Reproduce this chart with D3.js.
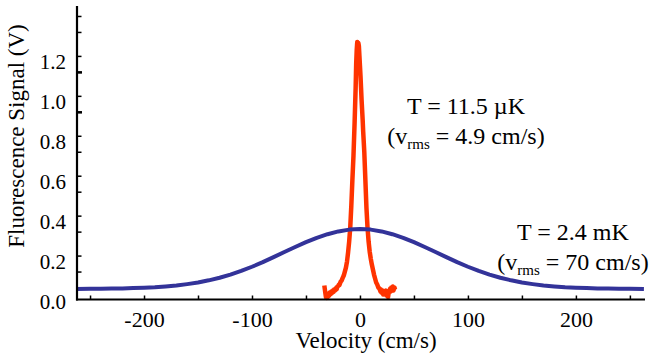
<!DOCTYPE html>
<html>
<head>
<meta charset="utf-8">
<script src="https://cdn.jsdelivr.net/npm/d3@7"></script>
<style>
  html, body { margin: 0; padding: 0; background: #fff; }
  svg { display: block; }
  svg text { font-family: "Liberation Serif", "Times New Roman", serif !important; fill: #000; }
</style>
</head>
<body>
<svg id="chart" width="662" height="355"></svg>
<script>
// ---- data ----
const xLabelTicks = [-200, -100, 0, 100, 200];
const xMinorTicks = [-250, -150, -50, 50, 150, 250];
const yLabels = [0.0, 0.2, 0.4, 0.6, 0.8, 1.0, 1.2];
const yTicksA = [0.22, 0.42, 0.62, 0.82, 1.02, 1.22, 1.42];
const yTicksB = [0.14, 0.34, 0.54, 0.74, 0.94, 1.14, 1.34];
const yTicksBold = [0.94, 1.14];

// warm cloud (T = 2.4 mK)
const blueV = [-263, -250, -240, -230, -220, -210, -200, -190, -180, -170, -160, -150, -140, -130, -120, -110, -100, -90, -80, -70, -60, -50, -40, -30, -20, -10, 0,
               10, 20, 30, 40, 50, 60, 70, 80, 90, 100, 110, 120, 130, 140, 150, 160, 170, 180, 190, 200, 210, 220, 230, 240, 250, 263];
const blueS = [0.053, 0.054, 0.054, 0.055, 0.055, 0.057, 0.059, 0.061, 0.065, 0.070, 0.077, 0.085, 0.096, 0.109, 0.125, 0.143, 0.164, 0.187, 0.212, 0.238, 0.263, 0.287, 0.309, 0.327, 0.341, 0.350, 0.353,
               0.350, 0.341, 0.327, 0.309, 0.287, 0.263, 0.238, 0.212, 0.187, 0.164, 0.143, 0.125, 0.109, 0.096, 0.085, 0.077, 0.070, 0.065, 0.061, 0.059, 0.057, 0.055, 0.055, 0.054, 0.054, 0.053];

// cold cloud (T = 11.5 µK)
const redV = [-33.0, -32.5, -32.0, -31.5, -31.0, -30.5, -30.0, -29.5, -29.0, -28.5, -28.0, -27.0, -26.5, -26.0, -25.0, -24.5, -24.0, -23.0, -22.0, -21.5, -21.0, -20.0, -19.5, -19.0, -18.0, -17.0,
              -16.0, -15.0, -14.0, -13.0, -12.0, -11.0, -10.0, -9.0, -8.0, -7.0, -6.0, -5.0, -4.0, -3.5, -3.0, -2.5, -2.0, -1.5, -1.0, -0.5, 0.0, 0.5, 1.0, 1.5, 2.0, 2.5, 3.0, 4.0, 5.0,
              6.0, 7.0, 8.0, 9.0, 10.0, 11.0, 12.0, 13.0, 14.0, 15.0, 16.0, 17.0, 18.0, 19.0, 19.5, 20.0, 21.0, 21.5, 22.0, 23.0, 24.0, 24.5, 25.0, 26.0, 26.5, 27.0, 28.0, 28.5, 29.0,
              30.0, 30.5, 31.0, 32.0, 32.5];
const redS = [0.070, 0.050, 0.030, 0.012, 0.020, 0.008, 0.025, 0.015, 0.030, 0.020, 0.035, 0.028, 0.040, 0.032, 0.045, 0.038, 0.050, 0.046, 0.058, 0.052, 0.064, 0.068, 0.075, 0.072, 0.088, 0.095,
              0.108, 0.120, 0.140, 0.160, 0.190, 0.235, 0.290, 0.360, 0.470, 0.600, 0.720, 0.880, 1.060, 1.180, 1.250, 1.290, 1.260, 1.285, 1.270, 1.220, 1.170, 1.120, 1.060, 1.000, 0.950, 0.900, 0.840, 0.740, 0.600,
              0.460, 0.360, 0.290, 0.240, 0.205, 0.175, 0.150, 0.125, 0.105, 0.085, 0.075, 0.060, 0.055, 0.040, 0.050, 0.035, 0.045, 0.025, 0.040, 0.030, 0.045, 0.020, 0.035, 0.012, 0.030, 0.040, 0.055, 0.040, 0.060,
              0.050, 0.065, 0.045, 0.060, 0.050];

const xTitle = "Velocity (cm/s)";
const yTitle = "Fluorescence Signal (V)";

// ---- drawing ----
const svg = d3.select("#chart");
const x = d3.scaleLinear().domain([-263, 264]).range([76, 645]);
const y = d3.scaleLinear().domain([0, 1.47]).range([299.5, 6]);

const line = d3.line().x(d => x(d[0])).y(d => y(d[1]));
const redData = redV.map((v, i) => [v, redS[i]]);
const blueData = blueV.map((v, i) => [v, blueS[i]]);

svg.append("path").datum(redData)
  .attr("d", line).attr("fill", "none")
  .attr("stroke", "#ff3300").attr("stroke-width", 4.5).attr("stroke-linejoin", "round");
svg.append("path").datum(blueData)
  .attr("d", line).attr("fill", "none")
  .attr("stroke", "#333399").attr("stroke-width", 4).attr("stroke-linejoin", "round");

// X axis
const gx = svg.append("g").attr("transform", `translate(0,${y(0)})`);
gx.call(d3.axisBottom(x).tickValues(xLabelTicks).tickSize(-4).tickPadding(12).tickFormat(d => String(d)));
gx.attr("font-family", null).attr("font-size", null);
gx.select(".domain").remove();
gx.selectAll(".tick line").attr("stroke", "#000").attr("stroke-width", 1.5);
gx.selectAll(".tick text").style("font-size", "22px");
const gxm = svg.append("g").attr("transform", `translate(0,${y(0)})`);
gxm.call(d3.axisBottom(x).tickValues(xMinorTicks).tickSize(-4).tickFormat(""));
gxm.select(".domain").remove();
gxm.selectAll(".tick line").attr("stroke", "#000").attr("stroke-width", 1.5);
svg.append("line")
  .attr("x1", x.range()[0]).attr("x2", x.range()[1])
  .attr("y1", y(0)).attr("y2", y(0))
  .attr("stroke", "#000").attr("stroke-width", 2);

// Y axis
const y0x = x.range()[0] + 1;
const gyl = svg.append("g").attr("transform", `translate(${y0x},0)`);
gyl.call(d3.axisLeft(y).tickValues(yLabels).tickSize(0).tickPadding(11).tickFormat(d3.format(".1f")));
gyl.attr("font-family", null).attr("font-size", null);
gyl.select(".domain").remove();
gyl.selectAll(".tick text").style("font-size", "21px").attr("dy", "0.42em");
[yTicksA, yTicksB].forEach(tv => {
  const g = svg.append("g").attr("transform", `translate(${y0x},0)`);
  g.call(d3.axisRight(y).tickValues(tv).tickSize(4.5).tickFormat(""));
  g.select(".domain").remove();
  g.selectAll(".tick line").attr("stroke", "#000").attr("stroke-width", 1.5);
});
const gyb = svg.append("g").attr("transform", `translate(${y0x - 1},0)`);
gyb.call(d3.axisRight(y).tickValues(yTicksBold).tickSize(6).tickFormat(""));
gyb.select(".domain").remove();
gyb.selectAll(".tick line").attr("stroke", "#000").attr("stroke-width", 2.5);
svg.append("line")
  .attr("x1", y0x).attr("x2", y0x)
  .attr("y1", y.range()[1]).attr("y2", y(0) + 1)
  .attr("stroke", "#000").attr("stroke-width", 2.2);

// Titles
svg.append("text").attr("x", 366).attr("y", 348)
  .attr("text-anchor", "middle").style("font-size", "23px").text(xTitle);
svg.append("text").attr("transform", "translate(23.5,136) rotate(-90)")
  .attr("text-anchor", "middle").style("font-size", "23px").text(yTitle);

// Annotations
function annot(cx, by, tLine, vVal) {
  svg.append("text").attr("x", cx).attr("y", by)
    .attr("text-anchor", "middle").style("font-size", "24px").text(tLine);
  const t = svg.append("text").attr("x", cx).attr("y", by + 30)
    .attr("text-anchor", "middle").style("font-size", "24px");
  t.append("tspan").text("(v");
  t.append("tspan").attr("dy", 5).style("font-size", "15px").text("rms");
  t.append("tspan").attr("dy", -5).text(" = " + vVal + ")");
}
annot(466, 113.5, "T = 11.5 \u00b5K", "4.9 cm/s");
annot(573, 240, "T = 2.4 mK", "70 cm/s");
</script>
</body>
</html>
